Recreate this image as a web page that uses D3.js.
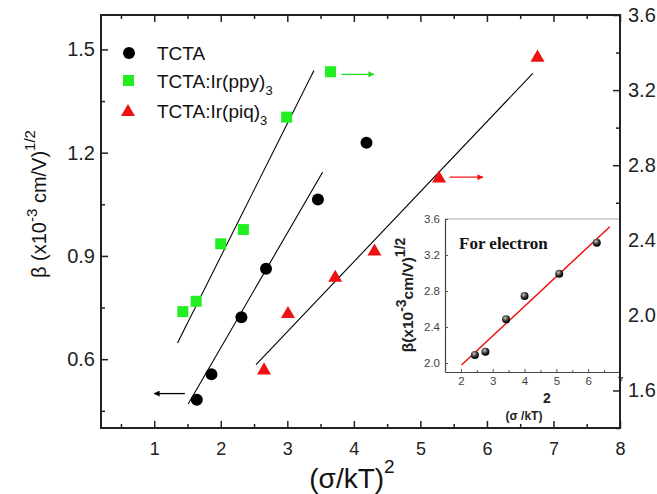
<!DOCTYPE html>
<html>
<head>
<meta charset="utf-8">
<script src="https://cdn.jsdelivr.net/npm/d3@7"></script>
<style>
  body { margin: 0; background: #fff; }
  svg { display: block; font-family: "Liberation Sans", Arial, sans-serif; }
</style>
</head>
<body>
<svg id="chart" width="657" height="494"></svg>
<script>
// main plot data, (sigma/kT)^2 vs beta
const tctaX = [1.64, 1.86, 2.31, 2.68, 3.46, 4.19];
const tctaY = [0.482, 0.556, 0.722, 0.863, 1.064, 1.229];
const ppyX = [1.43, 1.63, 2.0, 2.34, 2.99, 3.65];
const ppyY = [2.02, 2.075, 2.381, 2.457, 3.056, 3.298];
const piqX = [2.65, 3.01, 3.72, 4.31, 5.28, 6.76];
const piqY = [1.707, 2.007, 2.2, 2.34, 2.729, 3.373];

// fitted lines (end points)
const tctaFit = [[1.51, 0.47], [3.53, 1.143]];
const ppyFit = [[1.35, 1.853], [3.40, 3.305]];
const piqFit = [[2.53, 1.737], [6.69, 3.289]];

// arrows telling which axis to read
const tctaArrow = [[1.46, 0.5], [1.0, 0.5]];
const ppyArrow = [[3.81, 3.284], [4.30, 3.284]];
const piqArrow = [[5.44, 2.736], [5.94, 2.736]];

const xTicks = [1, 2, 3, 4, 5, 6, 7, 8];
const yLeftTicks = [0.6, 0.9, 1.2, 1.5];
const yRightTicks = [1.6, 2.0, 2.4, 2.8, 3.2, 3.6];

// inset data (for electron)
const insetX = [2.44, 2.77, 3.42, 4.0, 5.09, 6.27];
const insetY = [2.09, 2.126, 2.486, 2.744, 2.992, 3.337];
const insetFit = [[2.02, 1.978], [6.68, 3.514]];
const insetXTicks = [2, 3, 4, 5, 6, 7];
const insetYTicks = [2.0, 2.4, 2.8, 3.2, 3.6];

let svg = d3.select('#chart');

let mLeft = 101, mRight = 620, mTop = 15, mBottom = 428;

let x = d3.scaleLinear().domain([0.2, 8]).range([mLeft, mRight]);
let yL = d3.scaleLinear().domain([0.4, 1.6]).range([mBottom, mTop]);
let yR = d3.scaleLinear().domain([1.4, 3.6]).range([mBottom, mTop]);

// arrow heads
let defs = svg.append('defs');
[['black', '#000'], ['green', '#22dd22'], ['red', '#ee1111']].forEach(([id, c]) => {
  defs.append('marker')
    .attr('id', 'arr-' + id)
    .attr('viewBox', '0 0 10 10')
    .attr('refX', 9).attr('refY', 5)
    .attr('markerWidth', 10).attr('markerHeight', 6)
    .attr('markerUnits', 'userSpaceOnUse')
    .attr('orient', 'auto')
    .append('path')
    .attr('d', 'M0,0 L10,5 L0,10 z')
    .attr('fill', c);
});
let grad = defs.append('radialGradient')
  .attr('id', 'ball').attr('cx', '40%').attr('cy', '35%').attr('r', '65%');
grad.append('stop').attr('offset', '0%').attr('stop-color', '#c8c8b8');
grad.append('stop').attr('offset', '60%').attr('stop-color', '#2a2a2a');
grad.append('stop').attr('offset', '100%').attr('stop-color', '#000');

// AXES (ticks pointing inward)
function minors(ticks, step) {
  return ticks.map((t) => +(t - step).toFixed(3));
}

function styleAxis(g) {
  g.select('.domain').remove();
  g.selectAll('line').attr('stroke', '#222').attr('stroke-width', 1.5);
  g.selectAll('text').attr('fill', '#222');
}

svg.append('g')
  .attr('transform', `translate(0, ${mBottom})`)
  .call(d3.axisBottom(x).tickValues(xTicks).tickSize(-7).tickPadding(14).tickFormat(d3.format('d')))
  .call(styleAxis)
  .selectAll('text').style('font-size', '18px');
svg.append('g')
  .attr('transform', `translate(0, ${mBottom})`)
  .call(d3.axisBottom(x).tickValues(minors(xTicks, 0.5)).tickSize(-4).tickFormat(''))
  .call(styleAxis);

svg.append('g')
  .attr('transform', `translate(0, ${mTop})`)
  .call(d3.axisTop(x).tickValues(xTicks).tickSize(-7).tickFormat(''))
  .call(styleAxis);
svg.append('g')
  .attr('transform', `translate(0, ${mTop})`)
  .call(d3.axisTop(x).tickValues(minors(xTicks, 0.5)).tickSize(-4).tickFormat(''))
  .call(styleAxis);

svg.append('g')
  .attr('transform', `translate(${mLeft}, 0)`)
  .call(d3.axisLeft(yL).tickValues(yLeftTicks).tickSize(-7).tickPadding(6).tickFormat(d3.format('.1f')))
  .call(styleAxis)
  .selectAll('text').style('font-size', '20px');
svg.append('g')
  .attr('transform', `translate(${mLeft}, 0)`)
  .call(d3.axisLeft(yL).tickValues(minors(yLeftTicks, 0.15)).tickSize(-4).tickFormat(''))
  .call(styleAxis);

svg.append('g')
  .attr('transform', `translate(${mRight}, 0)`)
  .call(d3.axisRight(yR).tickValues(yRightTicks).tickSize(-7).tickPadding(8).tickFormat(d3.format('.1f')))
  .call(styleAxis)
  .selectAll('text').style('font-size', '20px');
svg.append('g')
  .attr('transform', `translate(${mRight}, 0)`)
  .call(d3.axisRight(yR).tickValues(minors(yRightTicks, 0.2)).tickSize(-4).tickFormat(''))
  .call(styleAxis);

// fit lines
function fitLine(pts, yScale, color, w) {
  svg.append('line')
    .attr('x1', x(pts[0][0])).attr('y1', yScale(pts[0][1]))
    .attr('x2', x(pts[1][0])).attr('y2', yScale(pts[1][1]))
    .attr('stroke', color).attr('stroke-width', w);
}
fitLine(ppyFit, yR, '#000', 1.1);
fitLine(tctaFit, yL, '#000', 1.1);
fitLine(piqFit, yR, '#000', 1.1);

function arrow(pts, yScale, color, id) {
  svg.append('line')
    .attr('x1', x(pts[0][0])).attr('y1', yScale(pts[0][1]))
    .attr('x2', x(pts[1][0])).attr('y2', yScale(pts[1][1]))
    .attr('stroke', color).attr('stroke-width', 1.3)
    .attr('marker-end', `url(#arr-${id})`);
}
arrow(tctaArrow, yL, '#000', 'black');
arrow(ppyArrow, yR, '#22dd22', 'green');
arrow(piqArrow, yR, '#ee1111', 'red');

// markers
svg.selectAll('.tcta')
  .data(tctaX)
  .enter()
  .append('circle')
  .attr('cx', (d) => x(d))
  .attr('cy', (d, i) => yL(tctaY[i]))
  .attr('r', 6)
  .attr('fill', '#000');

svg.selectAll('.ppy')
  .data(ppyX)
  .enter()
  .append('rect')
  .attr('x', (d) => x(d) - 5.5)
  .attr('y', (d, i) => yR(ppyY[i]) - 5.5)
  .attr('width', 11).attr('height', 11)
  .attr('fill', '#22ee22');

let tri = d3.symbol().type(d3.symbolTriangle).size(85);
svg.selectAll('.piq')
  .data(piqX)
  .enter()
  .append('path')
  .attr('d', tri)
  .attr('transform', (d, i) => `translate(${x(d)}, ${yR(piqY[i])})`)
  .attr('fill', '#ee1111');

// legend
let legend = svg.append('g').style('font-size', '19px').attr('fill', '#111');
legend.append('circle').attr('cx', 129).attr('cy', 53).attr('r', 6).attr('fill', '#000');
legend.append('rect').attr('x', 123).attr('y', 75).attr('width', 11).attr('height', 11).attr('fill', '#22ee22');
legend.append('path').attr('d', tri).attr('transform', 'translate(128, 112)').attr('fill', '#ee1111');
legend.append('text').attr('x', 157).attr('y', 60).text('TCTA');
let l2 = legend.append('text').attr('x', 157).attr('y', 88);
l2.append('tspan').text('TCTA:Ir(ppy)');
l2.append('tspan').attr('dy', 7).style('font-size', '13px').text('3');
let l3 = legend.append('text').attr('x', 157).attr('y', 118);
l3.append('tspan').text('TCTA:Ir(piq)');
l3.append('tspan').attr('dy', 7).style('font-size', '13px').text('3');

// axis titles
let yt = svg.append('text')
  .attr('transform', 'translate(46, 204) rotate(-90)')
  .attr('text-anchor', 'middle')
  .style('font-size', '20px')
  .attr('fill', '#111');
yt.append('tspan').text('\u03b2 (x10');
yt.append('tspan').attr('dy', -9).style('font-size', '15px').text('-3');
yt.append('tspan').attr('dy', 9).text(' cm/V)');
yt.append('tspan').attr('dy', -11).style('font-size', '15px').text('1/2');

let xt = svg.append('text')
  .attr('x', 352).attr('y', 488)
  .attr('text-anchor', 'middle')
  .style('font-size', '28px')
  .attr('fill', '#111');
xt.append('tspan').text('(\u03c3/kT)');
xt.append('tspan').attr('dy', -15).style('font-size', '19px').text('2');

// INSET
let il = 445, ir = 620, it = 219, ib = 372;
let ix = d3.scaleLinear().domain([1.5, 7]).range([il, ir]);
let iy = d3.scaleLinear().domain([1.9, 3.6]).range([ib, it]);

svg.append('rect')
  .attr('x', il).attr('y', it).attr('width', ir - il).attr('height', ib - it)
  .attr('fill', '#fff');
svg.append('line').attr('x1', il).attr('x2', ir).attr('y1', it).attr('y2', it)
  .attr('stroke', '#c8c8c8').attr('stroke-width', 1.5);

function styleInset(g) {
  g.select('.domain').attr('stroke', '#444').attr('stroke-width', 1.2);
  g.selectAll('line').attr('stroke', '#555');
  g.selectAll('text').attr('fill', '#444').style('font-size', '11.5px');
}

svg.append('g')
  .attr('transform', `translate(0, ${ib})`)
  .call(d3.axisBottom(ix).tickValues(insetXTicks).tickSize(-3).tickSizeOuter(0).tickPadding(5).tickFormat(d3.format('d')))
  .call(styleInset);
svg.append('g')
  .attr('transform', `translate(0, ${ib})`)
  .call(d3.axisBottom(ix).tickValues(minors(insetXTicks, 0.5)).tickSize(-2).tickSizeOuter(0).tickFormat(''))
  .call(styleInset)
  .select('.domain').remove();
svg.append('g')
  .attr('transform', `translate(${il}, 0)`)
  .call(d3.axisLeft(iy).tickValues(insetYTicks).tickSize(-3).tickSizeOuter(0).tickPadding(5).tickFormat(d3.format('.1f')))
  .call(styleInset);

svg.append('line')
  .attr('x1', ix(insetFit[0][0])).attr('y1', iy(insetFit[0][1]))
  .attr('x2', ix(insetFit[1][0])).attr('y2', iy(insetFit[1][1]))
  .attr('stroke', '#ee1111').attr('stroke-width', 1.5);

svg.selectAll('.inset')
  .data(insetX)
  .enter()
  .append('circle')
  .attr('cx', (d) => ix(d))
  .attr('cy', (d, i) => iy(insetY[i]))
  .attr('r', 4)
  .attr('fill', 'url(#ball)');

svg.append('text')
  .attr('x', 459).attr('y', 249)
  .style('font-family', '"Liberation Serif", "Times New Roman", serif')
  .style('font-weight', 'bold')
  .style('font-size', '17px')
  .attr('fill', '#111')
  .text('For electron');

let iyt = svg.append('text')
  .attr('transform', 'translate(413, 295) rotate(-90)')
  .attr('text-anchor', 'middle')
  .style('font-size', '15.5px')
  .style('font-weight', 'bold')
  .attr('fill', '#222');
iyt.append('tspan').text('\u03b2(x10');
iyt.append('tspan').attr('dy', -7).style('font-size', '14px').text('-3');
iyt.append('tspan').attr('dy', 7).text('cm/V)');
iyt.append('tspan').attr('dy', -8).style('font-size', '14px').text('1/2');

let ixt = svg.append('text')
  .attr('x', 524).attr('y', 420)
  .attr('text-anchor', 'middle')
  .style('font-size', '12px')
  .style('font-weight', 'bold')
  .attr('fill', '#222');
ixt.append('tspan').text('(\u03c3 /kT)');
svg.append('text')
  .attr('x', 543).attr('y', 403)
  .style('font-size', '14px')
  .style('font-weight', 'bold')
  .attr('fill', '#222')
  .text('2');

// main frame on top
svg.append('rect')
  .attr('x', mLeft).attr('y', mTop)
  .attr('width', mRight - mLeft).attr('height', mBottom - mTop)
  .attr('fill', 'none')
  .attr('stroke', '#222')
  .attr('stroke-width', 2);
</script>
</body>
</html>
